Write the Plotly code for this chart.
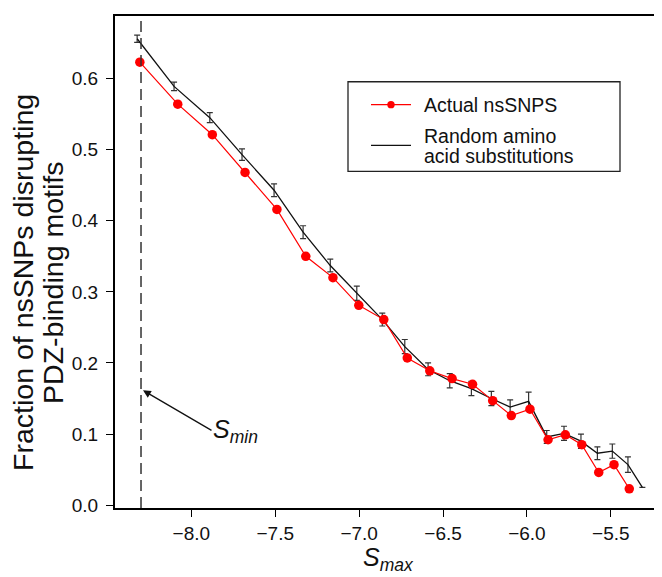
import plotly.graph_objects as go

# Actual nsSNPs (red)
actual_x = [-8.307, -8.081, -7.875, -7.680, -7.490, -7.318, -7.156, -7.002, -6.853, -6.713,
            -6.579, -6.446, -6.324, -6.204, -6.093, -5.982, -5.874, -5.771, -5.673, -5.572,
            -5.481, -5.390]
actual_y = [0.623, 0.564, 0.521, 0.468, 0.416, 0.350, 0.320, 0.281, 0.261, 0.207,
            0.189, 0.178, 0.170, 0.147, 0.126, 0.135, 0.092, 0.099, 0.085, 0.046,
            0.057, 0.023]

# Random amino acid substitutions (black, with error bars)
random_x = [-8.323, -8.103, -7.890, -7.698, -7.507, -7.334, -7.172, -7.014, -6.862, -6.728,
            -6.589, -6.460, -6.331, -6.212, -6.100, -5.990, -5.882, -5.779, -5.678, -5.580,
            -5.491, -5.398, -5.312]
random_y = [0.656, 0.589, 0.545, 0.493, 0.443, 0.384, 0.337, 0.298, 0.261, 0.223,
            0.191, 0.175, 0.164, 0.150, 0.138, 0.146, 0.096, 0.101, 0.090, 0.073,
            0.076, 0.057, 0.025]
random_err = [0.005, 0.006, 0.007, 0.008, 0.009, 0.009, 0.009, 0.010, 0.009, 0.010,
              0.009, 0.010, 0.010, 0.010, 0.010, 0.013, 0.009, 0.010, 0.010, 0.009,
              0.010, 0.011, 0.0]

s_min = -8.3
x_ticks = [-8.0, -7.5, -7.0, -6.5, -6.0, -5.5]
y_ticks = [0.0, 0.1, 0.2, 0.3, 0.4, 0.5, 0.6]

legend_labels = ["Actual nsSNPS", "Random amino", "acid substitutions"]

FONT = "Liberation Sans, Arial, Helvetica, sans-serif"
INK = "#111111"

fig = go.Figure()

fig.add_trace(go.Scatter(
    x=random_x, y=random_y, mode="lines", showlegend=False,
    line=dict(color=INK, width=1.3),
    error_y=dict(type="data", array=random_err, visible=True,
                 color="#333333", thickness=1.2, width=3),
))

fig.add_trace(go.Scatter(
    x=actual_x, y=actual_y, mode="lines+markers", showlegend=False,
    line=dict(color="#ff0000", width=1.2),
    marker=dict(color="#ff0000", size=9.5),
))

fig.add_vline(x=s_min, line=dict(color="#333333", width=1.5, dash="11px,6px"))

# S_min arrow and label
fig.add_annotation(
    x=-8.288, y=0.1615, xref="x", yref="y",
    ax=-7.871, ay=0.104, axref="x", ayref="y",
    showarrow=True, arrowhead=2, arrowsize=1.2, arrowwidth=1.3, arrowcolor=INK,
    text="",
)
fig.add_annotation(
    x=-7.735, y=0.104, xref="x", yref="y", xanchor="center", yanchor="middle",
    text="<i>S</i><sub><i>min</i></sub>", showarrow=False,
    font=dict(family=FONT, size=25, color=INK),
)

def px_x(p):
    return (p - 107) / 547.0

def px_y(p):
    return (500 - p) / 494.0

# y-axis title (two lines)
fig.add_annotation(
    x=px_x(15), y=px_y(274), xref="paper", yref="paper", showarrow=False,
    text="Fraction of nsSNPs disrupting", textangle=-90,
    xanchor="center", yanchor="middle",
    font=dict(family=FONT, size=28.5, color=INK),
)
fig.add_annotation(
    x=px_x(45), y=px_y(274), xref="paper", yref="paper", showarrow=False,
    text="PDZ-binding motifs", textangle=-90,
    xanchor="center", yanchor="middle",
    font=dict(family=FONT, size=28.5, color=INK),
)

# x-axis title
fig.add_annotation(
    x=0.5, y=px_y(551), xref="paper", yref="paper", showarrow=False,
    text="<i>S</i><sub><i>max</i></sub>", xanchor="center", yanchor="middle",
    font=dict(family=FONT, size=25, color=INK),
)

# Legend drawn by hand: box, samples and labels
fig.add_shape(type="rect", xref="paper", yref="paper",
              x0=px_x(340), x1=px_x(612), y0=px_y(162), y1=px_y(72),
              line=dict(color="#222222", width=1.3), fillcolor="white", layer="above")
fig.add_shape(type="line", xref="paper", yref="paper",
              x0=px_x(363), x1=px_x(403), y0=px_y(95), y1=px_y(95),
              line=dict(color="#ff0000", width=1.3), layer="above")
fig.add_shape(type="circle", xref="paper", yref="paper",
              xsizemode="pixel", ysizemode="pixel",
              xanchor=px_x(383), yanchor=px_y(95), x0=-3.7, x1=3.7, y0=-3.7, y1=3.7,
              line=dict(color="#ff0000", width=0), fillcolor="#ff0000", layer="above")
fig.add_shape(type="line", xref="paper", yref="paper",
              x0=px_x(363), x1=px_x(403), y0=px_y(136), y1=px_y(136),
              line=dict(color=INK, width=1.3), layer="above")
for label, ypix in zip(legend_labels, [95, 126, 147]):
    fig.add_annotation(
        x=px_x(414), y=px_y(ypix), xref="paper", yref="paper", showarrow=False,
        text=label, xanchor="left", yanchor="middle",
        font=dict(family=FONT, size=19.5, color=INK),
    )

fig.update_layout(
    width=662, height=577,
    margin=dict(l=107, r=8, t=6, b=77),
    paper_bgcolor="white", plot_bgcolor="white",
    font=dict(family=FONT, size=19, color=INK),
    showlegend=False,
    xaxis=dict(
        range=[-8.455, -5.195], tickvals=x_ticks, tickformat=".1f",
        showgrid=False, zeroline=False, showline=True, linecolor="black",
        linewidth=2, mirror=True, ticks="outside", ticklen=7, tickcolor="black",
    ),
    yaxis=dict(
        range=[-0.004, 0.688], tickvals=y_ticks, tickformat=".1f",
        showgrid=False, zeroline=False, showline=True, linecolor="black",
        linewidth=2, mirror=True, ticks="outside", ticklen=7, tickcolor="black",
        ticklabelstandoff=4,
    ),
)

fig.write_html("out.html")
